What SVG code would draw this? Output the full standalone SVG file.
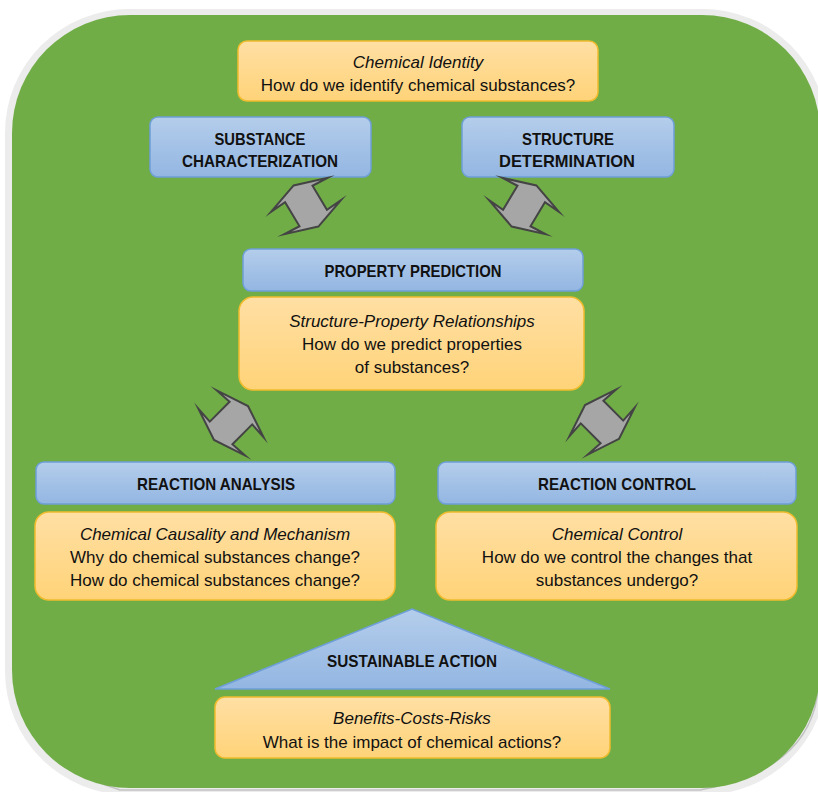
<svg xmlns="http://www.w3.org/2000/svg" width="818" height="792" viewBox="0 0 818 792">
<defs>
<linearGradient id="gOr" x1="0" y1="0" x2="0" y2="1"><stop offset="0" stop-color="#FFDFA4"/><stop offset="1" stop-color="#FFD378"/></linearGradient>
<linearGradient id="gBl" x1="0" y1="0" x2="0" y2="1"><stop offset="0" stop-color="#B4CDEB"/><stop offset="1" stop-color="#93B6E2"/></linearGradient>
<path id="dbl" d="M24,0 L13,33 L14,16 L-14,16 L-13,33 L-24,0 L-13,-33 L-14,-16 L14,-16 L13,-33 Z"/>
<style>
.or{fill:url(#gOr);stroke:#F0BC2E;stroke-width:1.5}
.bl{fill:url(#gBl);stroke:#6E9FD8;stroke-width:1.5}
text{font-family:"Liberation Sans",Arial,sans-serif;fill:#111;text-anchor:middle}
.n{font-size:17px}
.i{font-size:17px;font-style:italic}
.b{font-size:17px;font-weight:bold}
.arr{fill:#A6A6A6;stroke:#444;stroke-width:2;stroke-linejoin:miter;stroke-miterlimit:20}
</style>
</defs>
<rect x="5" y="9" width="822" height="786" rx="124" fill="#ECECEC"/>
<path d="M14,660 Q20,760 120,790 L700,790 Q810,770 818,690" fill="none" stroke="#B0B0B0" stroke-width="1.5" opacity="0.7"/>
<rect x="12" y="15" width="808" height="773" rx="118" fill="#70AD47"/>

<g id="chemical-identity">
<rect class="or" x="238" y="41" width="360" height="60" rx="9"/>
<text class="i" x="418" y="68">Chemical Identity</text>
<text class="n" x="418" y="91">How do we identify chemical substances?</text>
</g>
<g id="substance-characterization">
<rect class="bl" x="150" y="117" width="221" height="60" rx="8"/>
<text class="b" x="260" y="145" textLength="91" lengthAdjust="spacingAndGlyphs">SUBSTANCE</text>
<text class="b" x="260" y="167" textLength="156" lengthAdjust="spacingAndGlyphs">CHARACTERIZATION</text>
</g>
<g id="structure-determination">
<rect class="bl" x="462" y="117" width="212" height="60" rx="8"/>
<text class="b" x="568" y="145" textLength="92" lengthAdjust="spacingAndGlyphs">STRUCTURE</text>
<text class="b" x="567" y="167" textLength="136" lengthAdjust="spacingAndGlyphs">DETERMINATION</text>
</g>
<g id="property-prediction">
<rect class="bl" x="243" y="249" width="340" height="42" rx="8"/>
<text class="b" x="413" y="277" textLength="177" lengthAdjust="spacingAndGlyphs">PROPERTY PREDICTION</text>
</g>
<g id="structure-property">
<rect class="or" x="239" y="297" width="345" height="93" rx="14"/>
<text class="i" x="412" y="327">Structure-Property Relationships</text>
<text class="n" x="412" y="350">How do we predict properties</text>
<text class="n" x="412" y="373">of substances?</text>
</g>
<g id="reaction-analysis">
<rect class="bl" x="36" y="462" width="359" height="42" rx="8"/>
<text class="b" x="216" y="490" textLength="158" lengthAdjust="spacingAndGlyphs">REACTION ANALYSIS</text>
</g>
<g id="reaction-control">
<rect class="bl" x="438" y="462" width="358" height="42" rx="8"/>
<text class="b" x="617" y="490" textLength="158" lengthAdjust="spacingAndGlyphs">REACTION CONTROL</text>
</g>
<g id="chemical-causality">
<rect class="or" x="35" y="512" width="360" height="88" rx="14"/>
<text class="i" x="215" y="540">Chemical Causality and Mechanism</text>
<text class="n" x="215" y="563">Why do chemical substances change?</text>
<text class="n" x="215" y="586">How do chemical substances change?</text>
</g>
<g id="chemical-control">
<rect class="or" x="436" y="512" width="361" height="88" rx="14"/>
<text class="i" x="617" y="540">Chemical Control</text>
<text class="n" x="617" y="563">How do we control the changes that</text>
<text class="n" x="617" y="586">substances undergo?</text>
</g>
<g id="sustainable-action">
<polygon class="bl" points="412,609 610,689 215,689"/>
<text class="b" x="412" y="667" textLength="170" lengthAdjust="spacingAndGlyphs">SUSTAINABLE ACTION</text>
</g>
<g id="benefits-costs-risks">
<rect class="or" x="215" y="697" width="395" height="61" rx="10"/>
<text class="i" x="412" y="724">Benefits-Costs-Risks</text>
<text class="n" x="412" y="748">What is the impact of chemical actions?</text>
</g>

<g id="connectors">
<use href="#dbl" class="arr" transform="translate(306,206) rotate(59)"/>
<use href="#dbl" class="arr" transform="translate(524,206) rotate(121)"/>
<use href="#dbl" class="arr" transform="translate(231,423) rotate(-45)"/>
<use href="#dbl" class="arr" transform="translate(602,422) rotate(45)"/>
</g>
</svg>
